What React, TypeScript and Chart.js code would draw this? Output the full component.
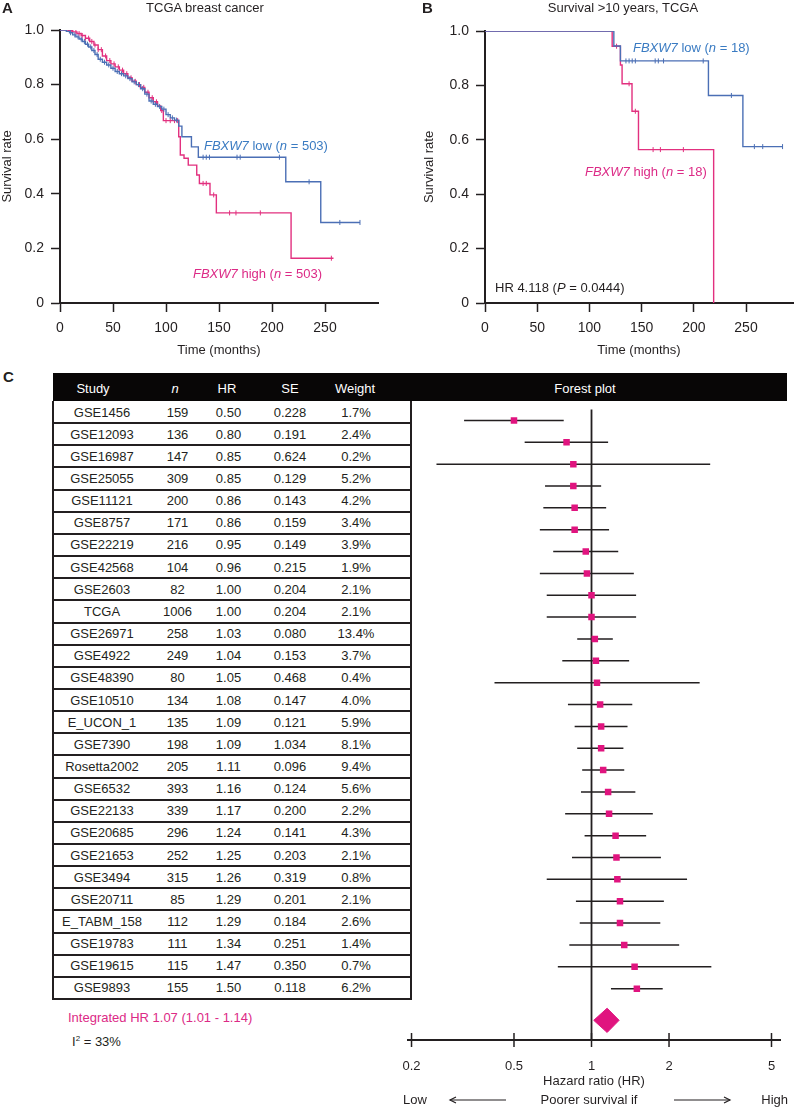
import React, { useEffect, useRef } from 'react';
import { Chart, registerables } from 'chart.js';

Chart.register(...registerables);

const FONT = '"Liberation Sans", Arial, Helvetica, sans-serif';
const INK = '#231f20';
const PINK = '#e2307f';
const PINK_TEXT = '#dc2a86';
const BLUE = '#4b6fb5';
const BLUE_TEXT = '#3a7bc2';
const MARKER = '#e0147f';

// ---------- Panel A / B : Kaplan-Meier ----------
const timeTicks = [0, 50, 100, 150, 200, 250];
const survivalTicks = [0, 0.2, 0.4, 0.6, 0.8, 1.0];

const aLowTime = [0, 6, 9, 12, 15, 18, 21, 24, 27, 30, 33, 36, 40, 44, 48, 52, 56, 60, 64, 68, 72, 76, 80, 84, 88, 92, 96, 100, 104, 108, 112, 115, 124, 130.5, 213, 246, 283];
const aLowSurv = [1, 0.995, 0.99, 0.982, 0.975, 0.967, 0.958, 0.948, 0.938, 0.925, 0.91, 0.893, 0.882, 0.872, 0.86, 0.848, 0.84, 0.832, 0.822, 0.81, 0.8, 0.785, 0.765, 0.74, 0.728, 0.72, 0.71, 0.69, 0.678, 0.67, 0.648, 0.609, 0.572, 0.534, 0.444, 0.295, 0.295];
const aLowCensor = [10, 14, 17, 20, 23, 26, 29, 32, 35, 38, 42, 46, 50, 54, 58, 62, 66, 70, 74, 78, 82, 86, 90, 94, 98, 102, 106, 110, 135, 138, 141, 167, 170, 207, 235, 264, 283];

const aHighTime = [0, 8, 12, 16, 20, 24, 28, 32, 36, 40, 44, 48, 52, 56, 60, 64, 68, 72, 76, 80, 84, 88, 92, 95, 97.5, 112, 113.5, 117, 121, 129, 131.5, 141.5, 147.5, 218, 258];
const aHighSurv = [1, 0.998, 0.993, 0.987, 0.98, 0.97, 0.958, 0.945, 0.928, 0.905, 0.888, 0.876, 0.865, 0.853, 0.84, 0.825, 0.812, 0.8, 0.79, 0.772, 0.752, 0.737, 0.722, 0.705, 0.668, 0.609, 0.542, 0.53, 0.505, 0.469, 0.438, 0.396, 0.33, 0.164, 0.164];
const aHighCensor = [11, 15, 18, 21, 24, 27, 30, 33, 36, 39, 43, 47, 51, 55, 59, 63, 67, 71, 75, 79, 83, 87, 91, 96, 100, 104, 108, 111, 135, 138, 145, 160, 166, 189, 256];

const bLowTime = [0, 123.4, 129.7, 214, 247, 285];
const bLowSurv = [1, 0.945, 0.89, 0.763, 0.575, 0.575];
const bLowCensor = [135, 138, 141, 144, 163, 166, 171, 209, 236, 258, 266, 285];

const bHighTime = [0, 121.8, 129.7, 131.3, 140.8, 147, 219];
const bHighSurv = [1, 0.944, 0.875, 0.806, 0.705, 0.564, 0];
const bHighCensor = [126, 138, 144, 161, 168, 190];

// ---------- Panel C : meta-analysis ----------
const studies = ['GSE1456', 'GSE12093', 'GSE16987', 'GSE25055', 'GSE11121', 'GSE8757', 'GSE22219', 'GSE42568', 'GSE2603', 'TCGA', 'GSE26971', 'GSE4922', 'GSE48390', 'GSE10510', 'E_UCON_1', 'GSE7390', 'Rosetta2002', 'GSE6532', 'GSE22133', 'GSE20685', 'GSE21653', 'GSE3494', 'GSE20711', 'E_TABM_158', 'GSE19783', 'GSE19615', 'GSE9893'];
const sampleSizes = [159, 136, 147, 309, 200, 171, 216, 104, 82, 1006, 258, 249, 80, 134, 135, 198, 205, 393, 339, 296, 252, 315, 85, 112, 111, 115, 155];
const hazardRatios = [0.50, 0.80, 0.85, 0.85, 0.86, 0.86, 0.95, 0.96, 1.00, 1.00, 1.03, 1.04, 1.05, 1.08, 1.09, 1.09, 1.11, 1.16, 1.17, 1.24, 1.25, 1.26, 1.29, 1.29, 1.34, 1.47, 1.50];
const standardErrors = ['0.228', '0.191', '0.624', '0.129', '0.143', '0.159', '0.149', '0.215', '0.204', '0.204', '0.080', '0.153', '0.468', '0.147', '0.121', '1.034', '0.096', '0.124', '0.200', '0.141', '0.203', '0.319', '0.201', '0.184', '0.251', '0.350', '0.118'];
const weights = ['1.7%', '2.4%', '0.2%', '5.2%', '4.2%', '3.4%', '3.9%', '1.9%', '2.1%', '2.1%', '13.4%', '3.7%', '0.4%', '4.0%', '5.9%', '8.1%', '9.4%', '5.6%', '2.2%', '4.3%', '2.1%', '0.8%', '2.1%', '2.6%', '1.4%', '0.7%', '6.2%'];
const ciLower = [0.32, 0.55, 0.25, 0.66, 0.65, 0.63, 0.71, 0.63, 0.67, 0.67, 0.88, 0.77, 0.42, 0.81, 0.86, 0.88, 0.92, 0.91, 0.79, 0.94, 0.84, 0.67, 0.87, 0.90, 0.82, 0.74, 1.19];
const ciUpper = [0.78, 1.16, 2.89, 1.09, 1.14, 1.17, 1.27, 1.46, 1.49, 1.49, 1.21, 1.40, 2.63, 1.44, 1.38, 1.33, 1.34, 1.48, 1.73, 1.63, 1.86, 2.35, 1.91, 1.85, 2.19, 2.92, 1.89];
const diamondHR = [1.02, 1.15, 1.28];
const hrTicks = [0.2, 0.5, 1, 2, 5];

// layout constants (pixels / row units)
const ROW_H = 22.15;
const TABLE_TOP = 401;
const ROW_TOP = -0.5;
const ROW_AXIS = 28.35;
const DIAMOND_ROW = 27.45;
const DIAMOND_HALF = 0.555;

function survAt(times: number[], surv: number[], t: number) {
  let v = surv[0];
  for (let i = 0; i < times.length; i++) if (times[i] <= t) v = surv[i];
  return v;
}
const steps = (t: number[], s: number[]) => t.map((x, i) => ({ x, y: s[i] }));
const censors = (t: number[], s: number[], c: number[]) => c.map((x) => ({ x, y: survAt(t, s, x) }));

function kmConfig(p: {
  low: [number[], number[], number[]];
  high: [number[], number[], number[]];
  xMax: number;
  padTop: number;
  padRight: number;
  yWidth: number;
  yTitlePad: number;
}): any {
  const [lt, ls, lc] = p.low;
  const [ht, hs, hc] = p.high;
  const tickFont = { family: FONT, size: 14 };
  const titleFont = { family: FONT, size: 13 };
  const grid = { display: true, drawOnChartArea: false, drawTicks: true, tickLength: 9, tickColor: INK, tickWidth: 1.5, color: INK };
  return {
    type: 'scatter',
    data: {
      datasets: [
        { data: steps(lt, ls), showLine: true, stepped: true, borderColor: BLUE, borderWidth: 1.4, pointRadius: 0 },
        { data: censors(lt, ls, lc), showLine: false, pointStyle: 'line', rotation: 90, pointRadius: 2.5, borderColor: BLUE, borderWidth: 1 },
        { data: steps(ht, hs), showLine: true, stepped: true, borderColor: PINK, borderWidth: 1.4, pointRadius: 0 },
        { data: censors(ht, hs, hc), showLine: false, pointStyle: 'line', rotation: 90, pointRadius: 2.5, borderColor: PINK, borderWidth: 1 },
      ],
    },
    options: {
      animation: false,
      responsive: false,
      events: [],
      layout: { padding: { top: p.padTop, right: p.padRight, left: 0, bottom: 0 } },
      plugins: { legend: { display: false }, tooltip: { enabled: false } },
      scales: {
        x: {
          type: 'linear',
          bounds: 'data',
          min: 0,
          max: p.xMax,
          afterBuildTicks: (s: any) => { s.ticks = timeTicks.map((v) => ({ value: v })); },
          afterFit: (s: any) => { s.height = 59; },
          grid,
          border: { display: true, color: INK, width: 2 },
          ticks: { color: INK, font: tickFont, padding: 8, maxRotation: 0, autoSkip: false },
          title: { display: true, text: 'Time (months)', color: INK, font: titleFont, padding: { top: 0, bottom: 4 } },
        },
        y: {
          type: 'linear',
          bounds: 'data',
          min: 0,
          max: 1,
          afterBuildTicks: (s: any) => { s.ticks = survivalTicks.map((v) => ({ value: v })); },
          afterFit: (s: any) => { s.width = p.yWidth; },
          grid,
          border: { display: true, color: INK, width: 2 },
          ticks: {
            color: INK, font: tickFont, padding: 7, autoSkip: false,
            callback: (v: any) => (Number(v) === 0 ? '0' : Number(v).toFixed(1)),
          },
          title: { display: true, text: 'Survival rate', color: INK, font: titleFont, padding: { top: p.yTitlePad, bottom: 0 } },
        },
      },
    },
  };
}

function forestConfig(): any {
  const markers = hazardRatios.map((v, i) => ({ x: v, y: i }));
  const segments: any[] = [];
  ciLower.forEach((lo, i) => {
    segments.push({ x: lo, y: i }, { x: ciUpper[i], y: i }, { x: 1, y: null });
  });
  const refLine = [{ x: 1, y: ROW_TOP }, { x: 1, y: ROW_AXIS }];
  const diamond = [
    { x: diamondHR[0], y: DIAMOND_ROW },
    { x: diamondHR[1], y: DIAMOND_ROW - DIAMOND_HALF },
    { x: diamondHR[2], y: DIAMOND_ROW },
    { x: diamondHR[1], y: DIAMOND_ROW + DIAMOND_HALF },
    { x: diamondHR[0], y: DIAMOND_ROW },
  ];
  const axisMarks = hrTicks.map((v) => ({ x: v, y: ROW_AXIS }));
  return {
    type: 'scatter',
    data: {
      datasets: [
        { data: markers, showLine: false, pointStyle: 'rect', pointRadius: 4.6, backgroundColor: MARKER, borderColor: MARKER, borderWidth: 0 },
        { data: segments, showLine: true, spanGaps: false, borderColor: INK, borderWidth: 1.5, pointRadius: 0 },
        { data: refLine, showLine: true, borderColor: INK, borderWidth: 1.8, pointRadius: 0, clip: false },
        { data: diamond, showLine: true, fill: 'shape', backgroundColor: MARKER, borderColor: MARKER, borderWidth: 1, pointRadius: 0 },
        { data: axisMarks, showLine: false, pointStyle: 'line', rotation: 90, pointRadius: 7, borderColor: INK, borderWidth: 1.5, clip: false },
      ],
    },
    options: {
      animation: false,
      responsive: false,
      events: [],
      layout: { padding: { top: 0, right: 18, left: 28, bottom: 0 } },
      plugins: { legend: { display: false }, tooltip: { enabled: false } },
      scales: {
        x: {
          type: 'logarithmic',
          bounds: 'data',
          min: 0.1938,
          max: 5.395,
          afterBuildTicks: (s: any) => { s.ticks = hrTicks.map((v) => ({ value: v })); },
          afterFit: (s: any) => { s.height = 69; },
          grid: { display: false, drawTicks: false },
          border: { display: true, color: INK, width: 2 },
          ticks: { color: INK, font: { family: FONT, size: 13 }, padding: 19, autoSkip: false, maxRotation: 0, callback: (v: any) => String(Number(v)) },
          title: { display: true, text: 'Hazard ratio (HR)', color: INK, font: { family: FONT, size: 13 }, padding: { top: 0, bottom: 20 } },
        },
        y: { type: 'linear', display: false, min: ROW_TOP, max: ROW_AXIS, reverse: true },
      },
    },
  };
}

function ChartCanvas({ left, top, width, height, config }: { left: number; top: number; width: number; height: number; config: () => any }) {
  const ref = useRef<HTMLCanvasElement | null>(null);
  useEffect(() => {
    if (!ref.current) return;
    const chart = new Chart(ref.current, config());
    return () => chart.destroy();
  }, []);
  return (
    <canvas
      ref={ref}
      width={width}
      height={height}
      style={{ position: 'absolute', left, top, width, height }}
    />
  );
}

function Txt({ x, y, size = 13, anchor = 'left', color = INK, bold = false, children }: any) {
  const tx = anchor === 'center' ? '-50%' : anchor === 'right' ? '-100%' : '0';
  return (
    <div
      style={{
        position: 'absolute',
        left: x,
        top: y - size * 0.6,
        lineHeight: `${size * 1.2}px`,
        fontSize: size,
        fontFamily: FONT,
        color,
        fontWeight: bold ? 700 : 400,
        whiteSpace: 'nowrap',
        transform: `translateX(${tx})`,
      }}
    >
      {children}
    </div>
  );
}

export default function App() {
  const rowCenter = (i: number) => TABLE_TOP + (i + 0.5) * ROW_H + 0.3;
  const tableBottom = TABLE_TOP + studies.length * ROW_H;
  return (
    <div style={{ position: 'absolute', left: 0, top: 0, width: 798, height: 1109, background: '#fff', overflow: 'hidden', fontFamily: FONT }}>
      <ChartCanvas
        left={0}
        top={0}
        width={400}
        height={362}
        config={() => kmConfig({ low: [aLowTime, aLowSurv, aLowCensor], high: [aHighTime, aHighSurv, aHighCensor], xMax: 300, padTop: 30, padRight: 22, yWidth: 60, yTitlePad: 0 })}
      />
      <ChartCanvas
        left={400}
        top={0}
        width={398}
        height={362}
        config={() => kmConfig({ low: [bLowTime, bLowSurv, bLowCensor], high: [bHighTime, bHighSurv, bHighCensor], xMax: 295, padTop: 31, padRight: 2, yWidth: 85, yTitlePad: 22 })}
      />

      {/* panel letters and titles */}
      <Txt x={2} y={8} size={15} bold>A</Txt>
      <Txt x={205} y={8} anchor="center">TCGA breast cancer</Txt>
      <Txt x={422} y={8} size={15} bold>B</Txt>
      <Txt x={623} y={8} anchor="center">Survival &gt;10 years, TCGA</Txt>
      <Txt x={3} y={377} size={15} bold>C</Txt>

      {/* KM annotations */}
      <Txt x={204} y={146} color={BLUE_TEXT}><i>FBXW7</i> low (<i>n</i> = 503)</Txt>
      <Txt x={193} y={274} color={PINK_TEXT}><i>FBXW7</i> high (<i>n</i> = 503)</Txt>
      <Txt x={633} y={48} color={BLUE_TEXT}><i>FBXW7</i> low (<i>n</i> = 18)</Txt>
      <Txt x={585} y={172} color={PINK_TEXT}><i>FBXW7</i> high (<i>n</i> = 18)</Txt>
      <Txt x={495} y={288}>HR 4.118 (<i>P</i> = 0.0444)</Txt>

      {/* table header band */}
      <div style={{ position: 'absolute', left: 53, top: 373, width: 734, height: 28, background: '#080606' }} />
      <Txt x={93} y={389} anchor="center" color="#fff">Study</Txt>
      <Txt x={175} y={389} anchor="center" color="#fff"><i>n</i></Txt>
      <Txt x={227} y={389} anchor="center" color="#fff">HR</Txt>
      <Txt x={290} y={389} anchor="center" color="#fff">SE</Txt>
      <Txt x={355} y={389} anchor="center" color="#fff">Weight</Txt>
      <Txt x={585} y={389} anchor="center" color="#fff">Forest plot</Txt>

      {/* table borders */}
      <div style={{ position: 'absolute', left: 52, top: TABLE_TOP, width: 2, height: tableBottom - TABLE_TOP + 1, background: INK }} />
      <div style={{ position: 'absolute', left: 410, top: TABLE_TOP, width: 2, height: tableBottom - TABLE_TOP + 1, background: INK }} />
      {studies.map((_, i) => (
        <div key={'l' + i} style={{ position: 'absolute', left: 52, top: TABLE_TOP + (i + 1) * ROW_H - 1, width: 360, height: 2, background: INK }} />
      ))}
      {studies.map((s, i) => (
        <React.Fragment key={'r' + i}>
          <Txt x={102} y={rowCenter(i)} anchor="center">{s}</Txt>
          <Txt x={177.5} y={rowCenter(i)} anchor="center">{sampleSizes[i]}</Txt>
          <Txt x={228.5} y={rowCenter(i)} anchor="center">{hazardRatios[i].toFixed(2)}</Txt>
          <Txt x={290} y={rowCenter(i)} anchor="center">{standardErrors[i]}</Txt>
          <Txt x={356} y={rowCenter(i)} anchor="center">{weights[i]}</Txt>
        </React.Fragment>
      ))}

      <ChartCanvas left={380} top={TABLE_TOP} width={418} height={708} config={forestConfig} />

      <Txt x={68} y={1018} color={PINK_TEXT}>Integrated HR 1.07 (1.01 - 1.14)</Txt>
      <Txt x={72} y={1042}>I<sup style={{ fontSize: 8, verticalAlign: 'top', lineHeight: '10px' }}>2</sup> = 33%</Txt>

      {/* direction legend */}
      <Txt x={403} y={1100}>Low</Txt>
      <Txt x={589} y={1100} anchor="center">Poorer survival if</Txt>
      <Txt x={788} y={1100} anchor="right">High</Txt>
      <svg style={{ position: 'absolute', left: 440, top: 1094, width: 300, height: 12 }} width={300} height={12}>
        <line x1={10} y1={6} x2={66} y2={6} stroke={INK} strokeWidth={1.2} />
        <polyline points="16,3 10,6 16,9" fill="none" stroke={INK} strokeWidth={1.2} />
        <line x1={234} y1={6} x2={290} y2={6} stroke={INK} strokeWidth={1.2} />
        <polyline points="284,3 290,6 284,9" fill="none" stroke={INK} strokeWidth={1.2} />
      </svg>
    </div>
  );
}
